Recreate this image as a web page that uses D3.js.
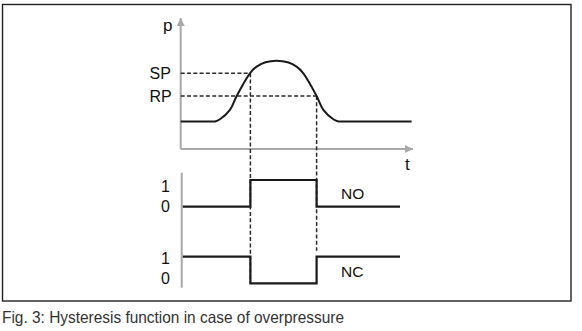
<!DOCTYPE html>
<html><head><meta charset="utf-8">
<script src="https://cdn.jsdelivr.net/npm/d3@7"></script>
<style>
html,body{margin:0;padding:0;background:#fff;}
svg{display:block;}
text{font-family:"Liberation Sans",Arial,sans-serif;fill:#111;}
</style></head>
<body><svg id="c" width="582" height="331"></svg>
<script>
// ---- data ----
const timeValues = [0, 13.5, 14.8, 16.9, 21.2, 24.1, 29.8, 32.7, 36.5, 41.3, 46.1, 49.9, 52.8, 58.5, 61.4, 65.7, 67.9, 69.2, 99.4];
const pressureValues = [21, 21, 21, 22.7, 29.8, 40.5, 57.8, 62.9, 66.2, 67.4, 66.2, 62.9, 57.8, 40.5, 29.8, 22.7, 21, 21, 21];
const SP = 57.8, RP = 40.5;
const switchOnTime = 30, switchOffTime = 58.5;
const stepTimes = [0.9, 30, 58.5, 94.4];
const noStates = [0, 1, 0, 0];
const ncStates = [1, 0, 1, 1];
const levelLabels = ["1", "0"];
const captionText = "Fig. 3: Hysteresis function in case of overpressure";

// ---- drawing ----
const svg = d3.select("#c");
const x = d3.scaleLinear().domain([0, 100]).range([180.7, 413]);
const y = d3.scaleLinear().domain([0, 100]).range([149, 18]);
const yNO = d3.scaleLinear().domain([0, 1]).range([206.7, 180]);
const yNC = d3.scaleLinear().domain([0, 1]).range([283.3, 256.7]);

// frame
svg.append("rect").attr("x", 2.5).attr("y", 4.5).attr("width", 568.5).attr("height", 296.5)
  .attr("fill", "none").attr("stroke", "#222").attr("stroke-width", 1.4);

const axisCol = "#a8a8a8";
const defs = svg.append("defs");
defs.append("marker").attr("id", "arr").attr("viewBox", "0 0 10 10").attr("refX", 10).attr("refY", 5)
  .attr("markerWidth", 8).attr("markerHeight", 8).attr("markerUnits", "userSpaceOnUse").attr("orient", "auto")
  .append("path").attr("d", "M0,0L10,5L0,10Z").attr("fill", axisCol);

// axes
svg.append("line").attr("x1", x(0)).attr("y1", y(0)).attr("x2", x(0)).attr("y2", y(100))
  .attr("stroke", axisCol).attr("stroke-width", 2).attr("marker-end", "url(#arr)");
svg.append("line").attr("x1", x(0)).attr("y1", y(0)).attr("x2", x(100)).attr("y2", y(0))
  .attr("stroke", axisCol).attr("stroke-width", 2).attr("marker-end", "url(#arr)");
svg.append("line").attr("x1", x(0) + 1).attr("y1", 172.7).attr("x2", x(0) + 1).attr("y2", 287.7)
  .attr("stroke", axisCol).attr("stroke-width", 2);

// dashed guides
const dash = {stroke: "#2a2a2a", "stroke-width": 1.5, "stroke-dasharray": "4,2.3"};
function dl(x1, y1, x2, y2) {
  const l = svg.append("line").attr("x1", x1).attr("y1", y1).attr("x2", x2).attr("y2", y2);
  Object.entries(dash).forEach(([k, v]) => l.attr(k, v));
}
dl(x(0), y(SP), x(switchOnTime), y(SP));
dl(x(0), y(RP), x(switchOffTime), y(RP));
dl(x(switchOnTime), y(SP), x(switchOnTime), yNC(0));
dl(x(switchOffTime), y(RP), x(switchOffTime), yNC(1) - 6);

// pressure curve
const pts = timeValues.map((t, i) => [t, pressureValues[i]]);
svg.append("path").datum(pts)
  .attr("d", d3.line().x(d => x(d[0])).y(d => y(d[1])).curve(d3.curveCatmullRom.alpha(0.5)))
  .attr("fill", "none").attr("stroke", "#1a1a1a").attr("stroke-width", 2);

// digital signals
const stepLine = (ys, states) => d3.line().x(d => x(d)).y((d, i) => ys(states[i])).curve(d3.curveStepAfter)(stepTimes);
svg.append("path").attr("d", stepLine(yNO, noStates)).attr("fill", "none").attr("stroke", "#1a1a1a").attr("stroke-width", 2.2);
svg.append("path").attr("d", stepLine(yNC, ncStates)).attr("fill", "none").attr("stroke", "#1a1a1a").attr("stroke-width", 2.2);

// labels
const fs = 16;
function tx(s, xx, yy, size) {
  svg.append("text").attr("x", xx).attr("y", yy).attr("font-size", size || fs).text(s);
}
tx("p", 163, 30.5, 17);
tx("SP", 149.5, y(SP) + 5.6);
tx("RP", 149.5, y(RP) + 5.8);
tx("t", 405, 170, 17);
tx(levelLabels[0], 161, 192);
tx(levelLabels[1], 161, 211.7);
tx(levelLabels[0], 161, 264);
tx(levelLabels[1], 161, 284);
tx("NO", 341, 198.5, 15.5);
tx("NC", 341, 277.3, 15.5);

svg.append("text").attr("x", 2).attr("y", 323)
  .attr("font-family", "'Liberation Sans Narrow','DejaVu Sans Condensed',sans-serif")
  .attr("font-size", 16.5).style("fill", "#333")
  .attr("textLength", 342).attr("lengthAdjust", "spacingAndGlyphs")
  .text(captionText);
</script></body></html>
